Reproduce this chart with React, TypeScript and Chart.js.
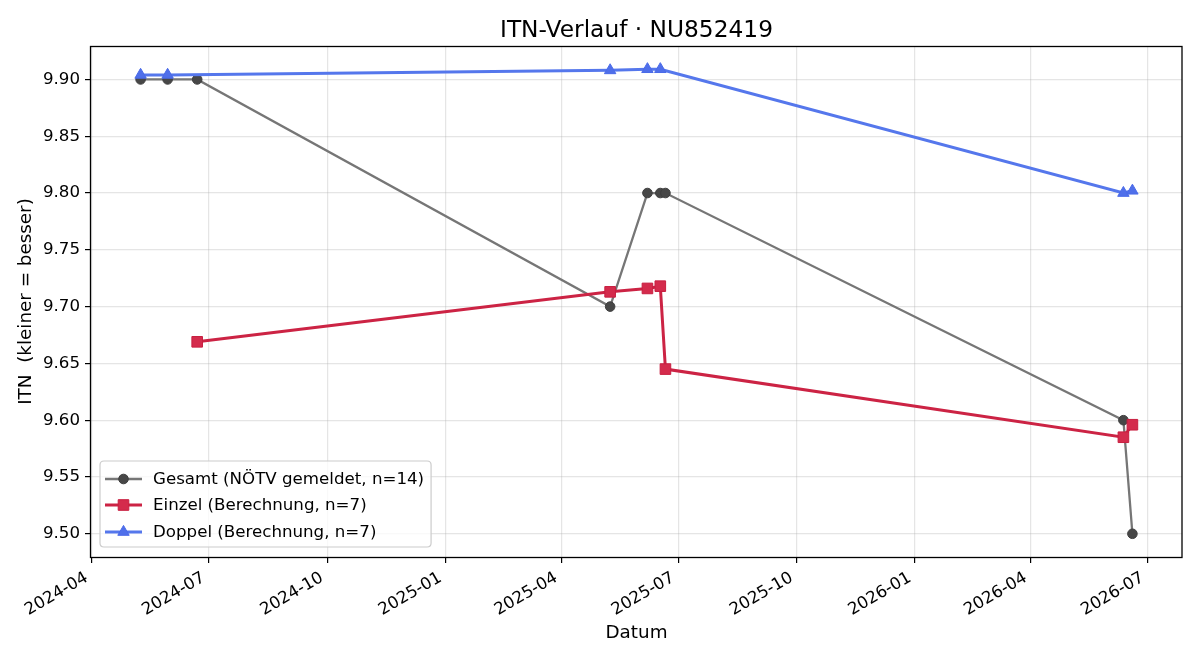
import React, { useEffect, useRef } from 'react';
import { Chart, registerables } from 'chart.js';

Chart.register(...registerables);

const FONT = '"DejaVu Sans", "Liberation Sans", sans-serif';

// ---- data ----
const gesamtDates = ['2024-05-09', '2024-05-30', '2024-06-22', '2025-05-09', '2025-06-07', '2025-06-17', '2025-06-21', '2026-06-12', '2026-06-19'];
const gesamtValues = [9.9, 9.9, 9.9, 9.7, 9.8, 9.8, 9.8, 9.6, 9.5];

const einzelDates = ['2024-06-22', '2025-05-09', '2025-06-07', '2025-06-17', '2025-06-21', '2026-06-12', '2026-06-19'];
const einzelValues = [9.669, 9.713, 9.716, 9.718, 9.645, 9.585, 9.596];

const doppelDates = ['2024-05-09', '2024-05-30', '2025-05-09', '2025-06-07', '2025-06-17', '2026-06-12', '2026-06-19'];
const doppelValues = [9.904, 9.904, 9.908, 9.909, 9.909, 9.8, 9.802];

const xTickLabels = ['2024-04', '2024-07', '2024-10', '2025-01', '2025-04', '2025-07', '2025-10', '2026-01', '2026-04', '2026-07'];
const yTickValues = [9.5, 9.55, 9.6, 9.65, 9.7, 9.75, 9.8, 9.85, 9.9];

const seriesLabels = ['Gesamt (NÖTV gemeldet, n=14)', 'Einzel (Berechnung, n=7)', 'Doppel (Berechnung, n=7)'];
const titleText = 'ITN-Verlauf · NU852419';
const xTitle = 'Datum';
const yTitle = 'ITN  (kleiner = besser)';

// ---- helpers ----
const ts = (s: string) => {
  const [y, m, d] = s.split('-').map(Number);
  return Date.UTC(y, m - 1, d || 1);
};
const fmtMonth = (v: number) => {
  const d = new Date(v);
  const m = d.getUTCMonth() + 1;
  return `${d.getUTCFullYear()}-${m < 10 ? '0' + m : m}`;
};
const toPoints = (dates: string[], vals: number[]) => dates.map((d, i) => ({ x: ts(d), y: vals[i] }));

const allX = [...gesamtDates, ...einzelDates, ...doppelDates].map(ts);
const allY = [...gesamtValues, ...einzelValues, ...doppelValues];
const xMinD = Math.min(...allX), xMaxD = Math.max(...allX);
const yMinD = Math.min(...allY), yMaxD = Math.max(...allY);
const xPad = (xMaxD - xMinD) * 0.05;
const yPad = (yMaxD - yMinD) * 0.05;

function drawMarker(ctx: CanvasRenderingContext2D, style: string, x: number, y: number, r: number) {
  ctx.beginPath();
  if (style === 'circle') {
    ctx.arc(x, y, r, 0, Math.PI * 2);
  } else if (style === 'rect') {
    const s = Math.SQRT1_2 * r;
    ctx.rect(x - s, y - s, 2 * s, 2 * s);
  } else if (style === 'triangle') {
    let rad = 0;
    ctx.moveTo(x + Math.sin(rad) * r, y - Math.cos(rad) * r);
    rad += (2 * Math.PI) / 3;
    ctx.lineTo(x + Math.sin(rad) * r, y - Math.cos(rad) * r);
    rad += (2 * Math.PI) / 3;
    ctx.lineTo(x + Math.sin(rad) * r, y - Math.cos(rad) * r);
    ctx.closePath();
  }
  ctx.fill();
  ctx.stroke();
}

const decorPlugin = {
  id: 'mplDecor',
  afterDraw(chart: any) {
    const ctx: CanvasRenderingContext2D = chart.ctx;
    const ca = chart.chartArea;
    ctx.save();
    // spines
    ctx.strokeStyle = '#000';
    ctx.lineWidth = 1.3;
    ctx.strokeRect(ca.left - 0.5, ca.top + 0.5, ca.right - ca.left + 0.5, ca.bottom - ca.top);
    // title
    ctx.fillStyle = '#000';
    ctx.font = `23.3px ${FONT}`;
    ctx.textAlign = 'center';
    ctx.textBaseline = 'alphabetic';
    ctx.fillText(titleText, (ca.left + ca.right) / 2, 37);

    // legend
    ctx.font = `16.67px ${FONT}`;
    const ds = chart.data.datasets;
    const maxW = Math.max(...ds.map((d: any) => ctx.measureText(d.label).width));
    const bx = 100, by = 461, bw = 153 - bx + maxW + 7, bh = 86, rr = 4;
    ctx.beginPath();
    ctx.moveTo(bx + rr, by);
    ctx.lineTo(bx + bw - rr, by);
    ctx.quadraticCurveTo(bx + bw, by, bx + bw, by + rr);
    ctx.lineTo(bx + bw, by + bh - rr);
    ctx.quadraticCurveTo(bx + bw, by + bh, bx + bw - rr, by + bh);
    ctx.lineTo(bx + rr, by + bh);
    ctx.quadraticCurveTo(bx, by + bh, bx, by + bh - rr);
    ctx.lineTo(bx, by + rr);
    ctx.quadraticCurveTo(bx, by, bx + rr, by);
    ctx.closePath();
    ctx.fillStyle = 'rgba(255,255,255,0.8)';
    ctx.fill();
    ctx.strokeStyle = '#cccccc';
    ctx.lineWidth = 1.2;
    ctx.stroke();

    const rowY = [479, 505, 532];
    ds.forEach((d: any, i: number) => {
      const y = rowY[i];
      ctx.strokeStyle = d.borderColor;
      ctx.lineWidth = d.borderWidth;
      ctx.beginPath();
      ctx.moveTo(105, y);
      ctx.lineTo(142, y);
      ctx.stroke();
      ctx.fillStyle = d.pointBackgroundColor;
      ctx.strokeStyle = d.pointBorderColor;
      ctx.lineWidth = d.pointBorderWidth;
      drawMarker(ctx, d.pointStyle, 123.5, y, d.pointRadius);
      ctx.fillStyle = '#000';
      ctx.textAlign = 'left';
      ctx.textBaseline = 'middle';
      ctx.fillText(d.label, 153, y + 1);
    });
    ctx.restore();
  },
};

export default function App() {
  const ref = useRef<HTMLCanvasElement | null>(null);

  useEffect(() => {
    if (!ref.current) return;
    const chart = new Chart(ref.current, {
      type: 'line',
      data: {
        datasets: [
          {
            label: seriesLabels[0],
            data: toPoints(gesamtDates, gesamtValues),
            borderColor: '#767676',
            borderWidth: 2.3,
            pointStyle: 'circle',
            pointRadius: 4.8,
            pointBackgroundColor: '#474747',
            pointBorderColor: '#3f3f3f',
            pointBorderWidth: 1,
            order: 3,
            tension: 0,
          },
          {
            label: seriesLabels[1],
            data: toPoints(einzelDates, einzelValues),
            borderColor: '#cc2344',
            borderWidth: 3,
            pointStyle: 'rect',
            pointRadius: 7.5,
            pointBackgroundColor: '#d42b4c',
            pointBorderColor: '#c81f40',
            pointBorderWidth: 1,
            order: 2,
            tension: 0,
          },
          {
            label: seriesLabels[2],
            data: toPoints(doppelDates, doppelValues),
            borderColor: '#5577ec',
            borderWidth: 3,
            pointStyle: 'triangle',
            pointRadius: 6.6,
            pointBackgroundColor: '#4f6fea',
            pointBorderColor: '#4a6ae8',
            pointBorderWidth: 1,
            order: 1,
            tension: 0,
          },
        ],
      },
      options: {
        responsive: false,
        maintainAspectRatio: false,
        devicePixelRatio: 1,
        animation: false,
        events: [],
        layout: { padding: { top: 46, right: 18, bottom: 0, left: 0 } },
        plugins: {
          legend: { display: false },
          tooltip: { enabled: false },
          title: { display: false },
        },
        scales: {
          x: {
            type: 'linear',
            bounds: 'data',
            min: xMinD - xPad,
            max: xMaxD + xPad,
            afterBuildTicks: (scale: any) => {
              scale.ticks = xTickLabels.map((l) => ({ value: ts(l) }));
            },
            afterFit: (scale: any) => {
              scale.height = 103;
            },
            ticks: {
              autoSkip: false,
              minRotation: 30,
              maxRotation: 30,
              padding: 5,
              labelOffset: -5,
              color: '#000',
              font: { family: FONT, size: 16.67 },
              callback: (v: any) => fmtMonth(Number(v)),
            },
            grid: {
              color: 'rgba(176,176,176,0.33)',
              lineWidth: 1.2,
              drawTicks: true,
              tickLength: 6,
              tickColor: '#000',
              tickWidth: 1.2,
            },
            border: { display: false },
            title: {
              display: true,
              text: xTitle,
              color: '#000',
              font: { family: FONT, size: 18.33 },
              padding: { top: 0, bottom: 16 },
            },
          },
          y: {
            type: 'linear',
            bounds: 'data',
            min: yMinD - yPad,
            max: yMaxD + yPad,
            afterBuildTicks: (scale: any) => {
              scale.ticks = yTickValues.map((v) => ({ value: v }));
            },
            afterFit: (scale: any) => {
              scale.width = 91;
            },
            ticks: {
              padding: 5,
              color: '#000',
              font: { family: FONT, size: 16.67 },
              callback: (v: any) => Number(v).toFixed(2),
            },
            grid: {
              color: 'rgba(176,176,176,0.33)',
              lineWidth: 1.2,
              drawTicks: true,
              tickLength: 6,
              tickColor: '#000',
              tickWidth: 1.2,
            },
            border: { display: false },
            title: {
              display: true,
              text: yTitle,
              color: '#000',
              font: { family: FONT, size: 18.33 },
              padding: { top: 15, bottom: 0 },
            },
          },
        },
      },
      plugins: [decorPlugin],
    } as any);
    return () => chart.destroy();
  }, []);

  return (
    <div style={{ position: 'absolute', left: 0, top: 0, width: 1200, height: 660, background: '#fff' }}>
      <canvas ref={ref} width={1200} height={660} style={{ display: 'block', width: 1200, height: 660 }} />
    </div>
  );
}
